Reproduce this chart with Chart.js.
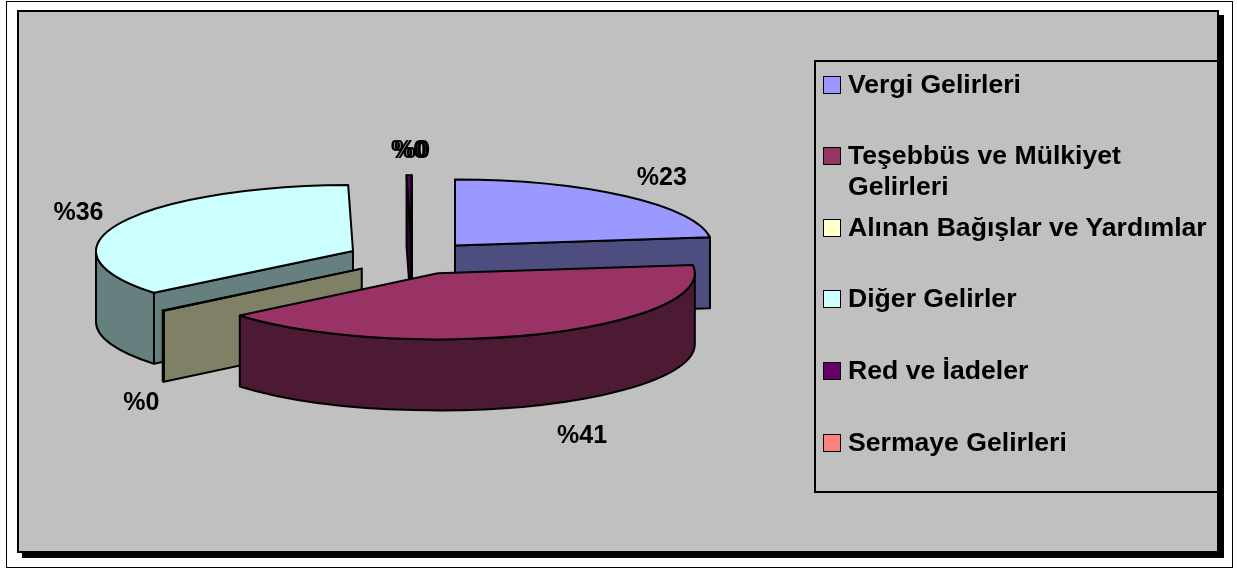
<!DOCTYPE html>
<html>
<head>
<meta charset="utf-8">
<script src="https://cdn.jsdelivr.net/npm/chart.js@4/dist/chart.umd.min.js"></script>
<style>
body { margin:0; background:#fff; width:1237px; height:570px; overflow:hidden; position:relative;
       font-family:"Liberation Sans", Arial, sans-serif; }
#outer { position:absolute; left:6px; top:1px; width:1227px; height:567px; border:1px solid #000; box-sizing:border-box; }
#plot { position:absolute; left:17px; top:10px; width:1202px; height:543px; background:#c0c0c0;
        border:2px solid #000; box-sizing:border-box; box-shadow:5px 5px 0 #000; }
#legend { position:absolute; left:814px; top:60px; width:405px; height:433px; border:2px solid #000; box-sizing:border-box; }
.item { position:absolute; left:7px; width:390px; }
.box { position:absolute; left:0; width:16px; height:16px; border:1.5px solid #000; }
.txt { position:absolute; left:25px; width:372px; font-size:26.6px; font-weight:bold; line-height:31px; color:#000; }
#chart { position:absolute; left:0; top:0; }
</style>
</head>
<body>
<div id="outer"></div>
<div id="plot"></div>
<canvas id="chart" width="1237" height="570"></canvas>
<div id="legend"></div>
<script>
//------------------ データ ------------------//
const LABELS = ['Vergi Gelirleri', 'Teşebbüs ve Mülkiyet Gelirleri', 'Alınan Bağışlar ve Yardımlar',
                'Diğer Gelirler', 'Red ve İadeler', 'Sermaye Gelirleri']
const VALUES = [23, 41, 0.1, 35.6, 0.3, 0]          // % 値
const COLORS = ['#9999ff', '#993366', '#ffffcc', '#ccffff', '#660066', '#ff8080']
//--------------------------------------------//

// 側面用に色を暗くする
function darken(hex){
    const n = parseInt(hex.slice(1), 16)
    const r = (n >> 16) & 255, g = (n >> 8) & 255, b = n & 255
    return 'rgb(' + Math.round(r*0.5) + ',' + Math.round(g*0.5) + ',' + Math.round(b*0.5) + ')'
}

/*--------------------------------------------------------------------
3D風の分割円グラフを描くプラグイン (arcの角度・中心・半径はChart.jsから取得)
--------------------------------------------------------------------*/
const pie3d = {
    id: 'pie3d',
    beforeDatasetsDraw(chart, args, opts){
        const ctx = chart.ctx
        const meta = chart.getDatasetMeta(0)
        const k = opts.tilt, D = opts.depth
        const idx = meta.data.map((a, i) => i)
        // 奥から手前へ
        idx.sort((i, j) => {
            const a = meta.data[i], b = meta.data[j]
            return Math.sin((a.startAngle + a.endAngle)/2) - Math.sin((b.startAngle + b.endAngle)/2)
        })
        ctx.save()
        ctx.lineWidth = 2
        ctx.strokeStyle = '#000'
        ctx.lineJoin = 'round'
        for (const i of idx){
            const p = meta.data[i].getProps(['x', 'y', 'startAngle', 'endAngle', 'outerRadius'], true)
            const s = p.startAngle, e = p.endAngle, r = p.outerRadius
            const mid = (s + e)/2
            const d = opts.explode * r
            const cx = p.x + d*Math.cos(mid)
            const cy = p.y + d*Math.sin(mid)*k
            const pt = (a) => [cx + r*Math.cos(a), cy + r*k*Math.sin(a)]
            const col = COLORS[i], dark = darken(COLORS[i])
            const zero = (e - s) < 1e-6

            // 切り口
            const face = (a) => {
                const q = pt(a)
                ctx.beginPath()
                ctx.moveTo(cx, cy); ctx.lineTo(q[0], q[1])
                ctx.lineTo(q[0], q[1] + D); ctx.lineTo(cx, cy + D)
                ctx.closePath()
                ctx.fillStyle = dark
                ctx.fill(); ctx.stroke()
            }
            if (zero){
                face(s)
            } else {
                if (Math.cos(s) < 0) face(s)
                if (Math.cos(e) > 0) face(e)
            }
            // 外周の壁
            const a1 = Math.max(s, 0), a2 = Math.min(e, Math.PI)
            if (a2 > a1){
                ctx.beginPath()
                ctx.ellipse(cx, cy, r, r*k, 0, a1, a2)
                const q = pt(a2)
                ctx.lineTo(q[0], q[1] + D)
                ctx.ellipse(cx, cy + D, r, r*k, 0, a2, a1, true)
                ctx.closePath()
                ctx.fillStyle = dark
                ctx.fill(); ctx.stroke()
            }
            // 上面
            if (!zero){
                ctx.beginPath()
                ctx.moveTo(cx, cy)
                ctx.ellipse(cx, cy, r, r*k, 0, s, e)
                ctx.closePath()
                ctx.fillStyle = col
                ctx.fill(); ctx.stroke()
            }
        }
        ctx.restore()
        return false
    },
    afterDraw(chart, args, opts){
        // パーセントラベル
        const ctx = chart.ctx
        const meta = chart.getDatasetMeta(0)
        const k = opts.tilt, D = opts.depth
        const total = VALUES.reduce((a, b) => a + b, 0)
        ctx.save()
        ctx.font = 'bold 25px "Liberation Sans", Arial, sans-serif'
        ctx.fillStyle = '#000'
        ctx.textBaseline = 'middle'
        meta.data.forEach((arc, i) => {
            const p = arc.getProps(['x', 'y', 'startAngle', 'endAngle', 'outerRadius'], true)
            const r = p.outerRadius
            const mid = (p.startAngle + p.endAngle)/2
            const c = Math.cos(mid), sn = Math.sin(mid)
            const d = opts.explode * r
            const front = sn > 0
            const x = p.x + (d + r)*c + opts.gap*c + (front ? 10 : 0)
            const y = p.y + (d + r)*sn*k + (front ? opts.gapFront : opts.gapBack)*sn + (front ? D : 0)
            ctx.textAlign = c > 0.2 ? 'left' : (c < -0.2 ? 'right' : 'center')
            ctx.fillText('%' + Math.round(VALUES[i]/total*100), x, y)
        })
        ctx.restore()
    }
}

new Chart(document.getElementById('chart'), {
    type: 'pie',
    data: {
        labels: LABELS,
        datasets: [{ data: VALUES, backgroundColor: COLORS, borderWidth: 0 }]
    },
    options: {
        responsive: false,
        animation: false,
        events: [],
        layout: { padding: { left: 155, right: 568, top: 1, bottom: 55 } },
        plugins: {
            legend: { display: false },
            tooltip: { enabled: false },
            pie3d: { tilt: 0.257, depth: 71, explode: 0.253, gap: 18, gapBack: 24, gapFront: 34 }
        }
    },
    plugins: [pie3d]
});

// 凡例
const legend = document.getElementById('legend')
LABELS.forEach((label, i) => {
    const item = document.createElement('div')
    item.className = 'item'
    item.style.top = (6.5 + i*71.6) + 'px'
    const box = document.createElement('div')
    box.className = 'box'
    box.style.top = '7px'
    box.style.background = COLORS[i]
    const txt = document.createElement('div')
    txt.className = 'txt'
    txt.textContent = label
    item.appendChild(box)
    item.appendChild(txt)
    legend.appendChild(item)
})
</script>
</body>
</html>
